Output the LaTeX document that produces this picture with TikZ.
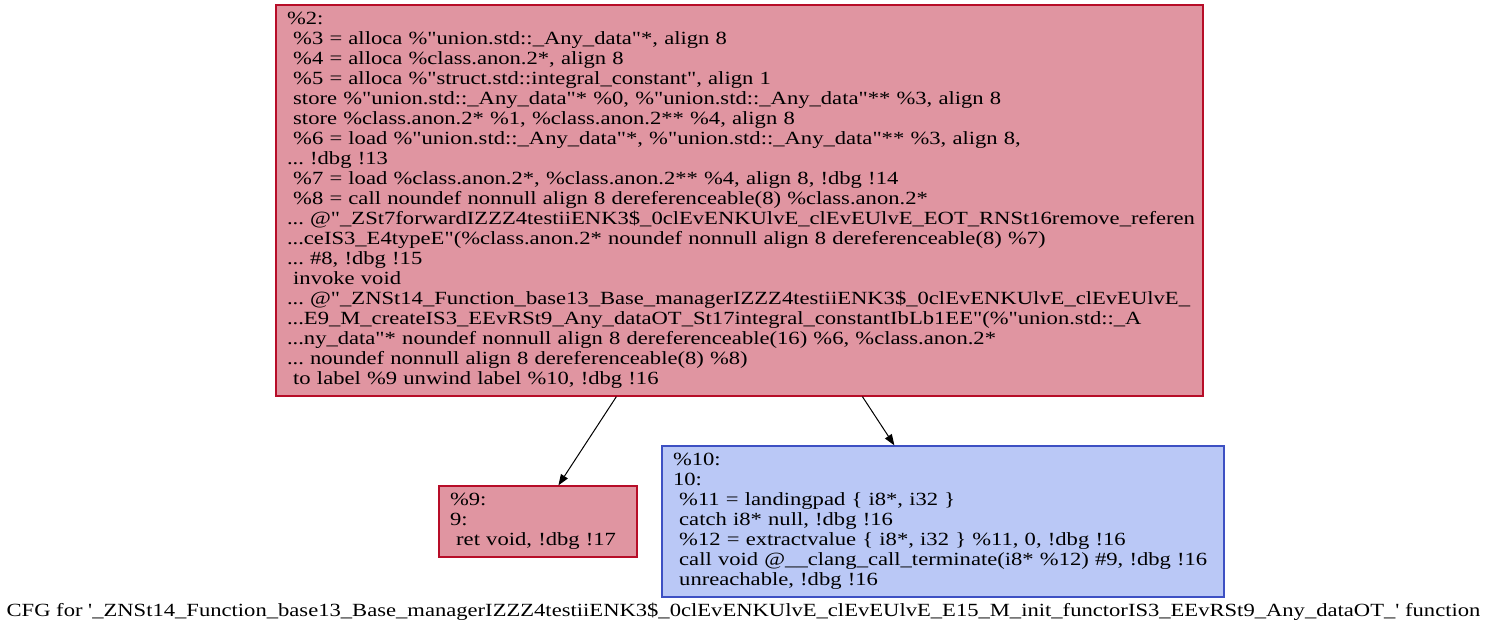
\documentclass[tikz,border=0pt]{standalone}
\usepackage{fontspec}
\setmainfont{Liberation Serif}[Ligatures=TeXOff, FakeStretch=1.215]
\usetikzlibrary{arrows.meta}

\definecolor{hotline}{HTML}{B70D28}
\definecolor{hotfill}{RGB}{224,149,161}
\definecolor{coolline}{HTML}{3D50C3}
\definecolor{coolfill}{RGB}{186,200,246}

\newcommand{\codefont}{\fontsize{18.6}{20}\selectfont\frenchspacing}

\begin{document}
\begin{tikzpicture}[x=1pt,y=-1pt,
  block/.style={draw, line width=1.2pt, inner xsep=11pt, inner ysep=0pt,
    align=left, font=\codefont},
  hot/.style={block, draw=hotline, fill=hotfill},
  cool/.style={block, draw=coolline, fill=coolfill},
  flow/.style={draw=black, line width=1pt, -{Triangle[length=11pt,width=8pt]}},
  caption/.style={inner sep=0pt, font=\codefont}]

\useasboundingbox (0,0) rectangle (1500,633);

% entry block
\node[hot, text width=905pt, minimum height=391pt] (b2) at (739.5,200.5) {%
\begin{tabular}{@{}l@{}}
\%2:\\
\ \%3 = alloca \%"union.std::\_Any\_data"*, align 8\\
\ \%4 = alloca \%class.anon.2*, align 8\\
\ \%5 = alloca \%"struct.std::integral\_constant", align 1\\
\ store \%"union.std::\_Any\_data"* \%0, \%"union.std::\_Any\_data"** \%3, align 8\\
\ store \%class.anon.2* \%1, \%class.anon.2** \%4, align 8\\
\ \%6 = load \%"union.std::\_Any\_data"*, \%"union.std::\_Any\_data"** \%3, align 8,\\
... !dbg !13\\
\ \%7 = load \%class.anon.2*, \%class.anon.2** \%4, align 8, !dbg !14\\
\ \%8 = call noundef nonnull align 8 dereferenceable(8) \%class.anon.2*\\
... @"\_ZSt7forwardIZZZ4testiiENK3\$\_0clEvENKUlvE\_clEvEUlvE\_EOT\_RNSt16remove\_referen\\
...ceIS3\_E4typeE"(\%class.anon.2* noundef nonnull align 8 dereferenceable(8) \%7)\\
... \#8, !dbg !15\\
\ invoke void\\
... @"\_ZNSt14\_Function\_base13\_Base\_managerIZZZ4testiiENK3\$\_0clEvENKUlvE\_clEvEUlvE\_\\
...E9\_M\_createIS3\_EEvRSt9\_Any\_dataOT\_St17integral\_constantIbLb1EE"(\%"union.std::\_A\\
...ny\_data"* noundef nonnull align 8 dereferenceable(16) \%6, \%class.anon.2*\\
... noundef nonnull align 8 dereferenceable(8) \%8)\\
\ to label \%9 unwind label \%10, !dbg !16
\end{tabular}};

% normal return block
\node[hot, text width=176pt, minimum height=71pt] (b9) at (538,521.5) {%
\begin{tabular}{@{}l@{}}
\%9:\\
9:\\
\ ret void, !dbg !17
\end{tabular}};

% landing pad block
\node[cool, text width=540pt, minimum height=151pt] (b10) at (943,521.5) {%
\begin{tabular}{@{}l@{}}
\%10:\\
10:\\
\ \%11 = landingpad \{ i8*, i32 \}\\
\ catch i8* null, !dbg !16\\
\ \%12 = extractvalue \{ i8*, i32 \} \%11, 0, !dbg !16\\
\ call void @\_\_clang\_call\_terminate(i8* \%12) \#9, !dbg !16\\
\ unreachable, !dbg !16
\end{tabular}};

% control-flow edges
\draw[flow] ([xshift=341pt]b2.south west) -- ([xshift=120pt]b9.north west);
\draw[flow] ([xshift=587pt]b2.south west) -- ([xshift=233pt]b10.north west);

% graph label
\node[caption] (title) at (743.5,612) {CFG for '\_ZNSt14\_Function\_base13\_Base\_managerIZZZ4testiiENK3\$\_0clEvENKUlvE\_clEvEUlvE\_E15\_M\_init\_functorIS3\_EEvRSt9\_Any\_dataOT\_' function};

\end{tikzpicture}
\end{document}
